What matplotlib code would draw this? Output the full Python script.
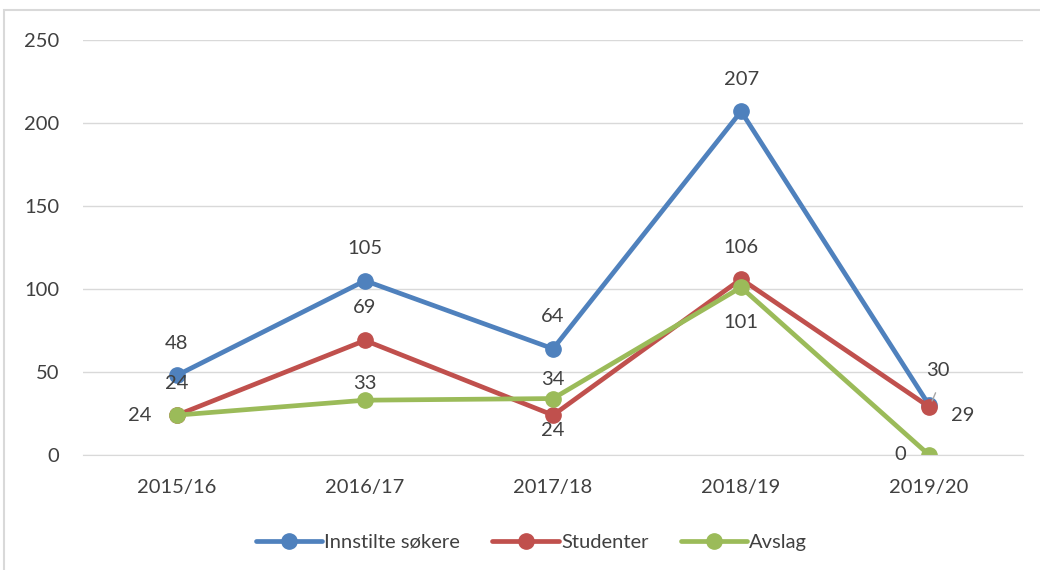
import matplotlib.pyplot as plt
from matplotlib.patches import Rectangle

years = ["2015/16", "2016/17", "2017/18", "2018/19", "2019/20"]
innstilte = [48, 105, 64, 207, 30]
studenter = [24, 69, 24, 106, 29]
avslag = [24, 33, 34, 101, 0]

plt.rcParams['font.family'] = ['Lato', 'DejaVu Sans']

fig = plt.figure(figsize=(10.4, 5.7), dpi=100)
ax = fig.add_axes([0.0798, 0.2018, 0.904, 0.728])

# chart frame
fig.patches.append(Rectangle((0.004, -0.1), 1.1, 1.082, transform=fig.transFigure,
                             fill=False, edgecolor='#d9d9d9', linewidth=1.5))

series = [
    ("Innstilte søkere", innstilte, '#4f81bd'),
    ("Studenter", studenter, '#c0504d'),
    ("Avslag", avslag, '#9bbb59'),
]
x = list(range(len(years)))
for name, vals, col in series:
    ax.plot(x, vals, color=col, lw=3.4, marker='o', ms=11, label=name,
            solid_capstyle='round')

# data labels: (dx, dy) in points
offsets = {
    "Innstilte søkere": [(0, 23), (0, 23), (0, 23), (0, 23), (6, 25)],
    "Studenter": [(0, 23), (0, 24), (0, -11), (0, 23), (24, -6)],
    "Avslag": [(-27, 0), (0, 12), (0, 14), (0, -25), (-21, 0)],
}
for name, vals, col in series:
    for i, v in enumerate(vals):
        dx, dy = offsets[name][i]
        ax.annotate(str(v), (i, v), xytext=(dx, dy), textcoords='offset points',
                    ha='center', va='center', fontsize=14.5, color='#404040')
# leader line for the 2019/20 label
ax.annotate("", (4.01, 31), xytext=(4.04, 39), arrowprops=dict(arrowstyle='-', color='#a6a6a6', lw=1))

ax.set_xlim(-0.5, 4.5)
ax.set_ylim(0, 250)
ax.set_yticks(range(0, 251, 50))
ax.set_xticks(x)
ax.set_xticklabels(years)
ax.tick_params(length=0, labelsize=14.5, colors='#404040', pad=17)
ax.tick_params(axis='y', pad=17)
ax.grid(axis='y', color='#d9d9d9', lw=1)
ax.set_axisbelow(True)
for s in ['top', 'right', 'left']:
    ax.spines[s].set_visible(False)
ax.spines['bottom'].set_color('#d9d9d9')

ax.legend(loc='center', bbox_to_anchor=(0.477, -0.21), ncol=3, frameon=False,
          fontsize=14.5, handlelength=3.3, handletextpad=0.1, columnspacing=1.6,
          labelcolor='#404040')

fig.savefig("out.png", dpi=100)
